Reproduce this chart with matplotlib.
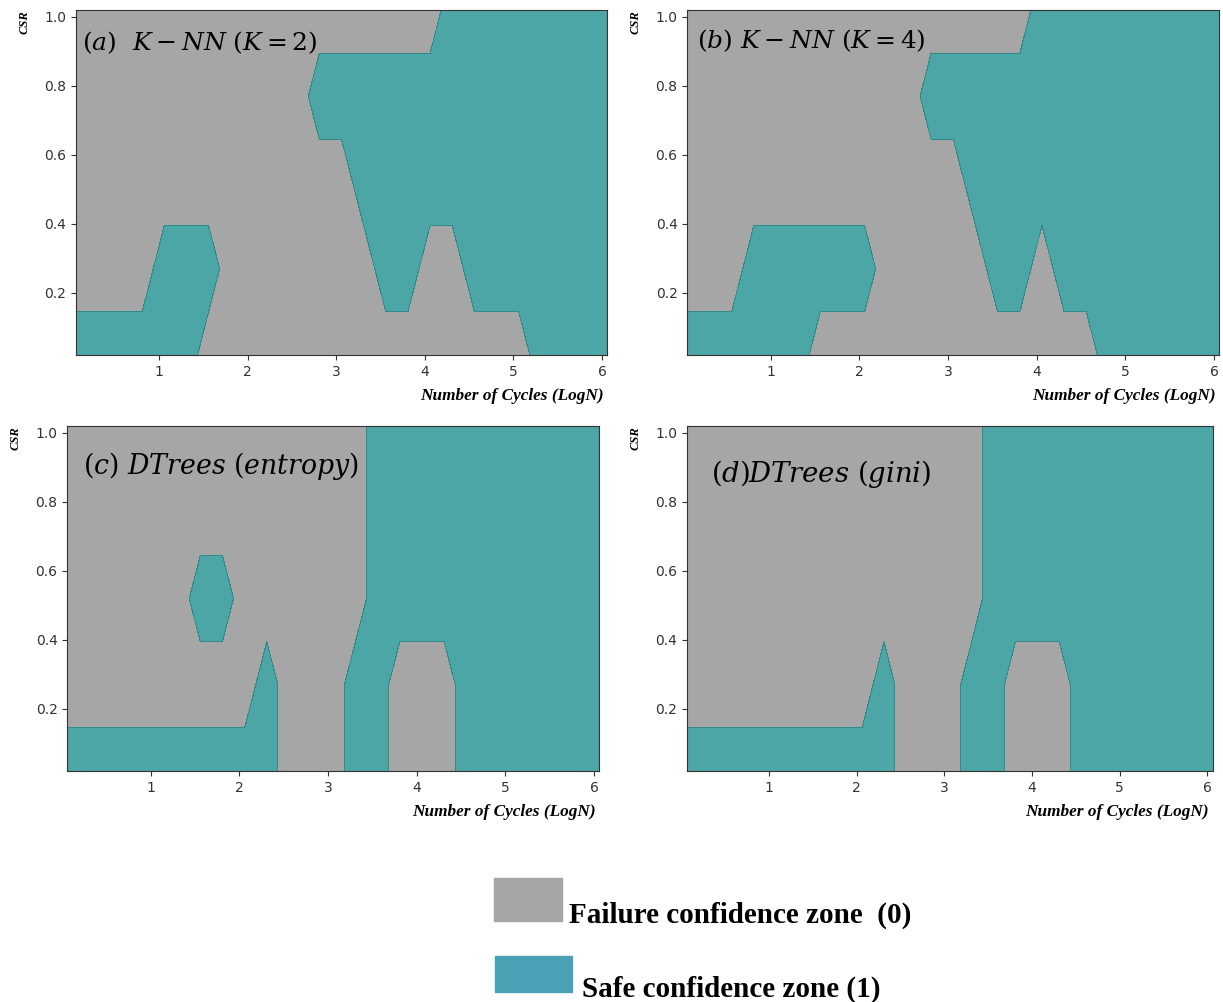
import numpy as np
import matplotlib.pyplot as plt
from matplotlib.colors import ListedColormap

plt.rcParams['mathtext.fontset'] = 'dejavuserif'

# classifier mesh (LogN on x, CSR on y)
x_grid = np.linspace(0.06, 6.06, 25)
y_grid = np.linspace(0.02, 1.02, 5)

# predicted class on the mesh, top row (CSR=1.02) first; 0 = failure, 1 = safe
knn2 = ["0000000000000000011111111",
        "0000000000011111111111111",
        "0000000000000111111111111",
        "0000111000000011001111111",
        "1111110000000000000001111"]

knn4 = ["0000000000000000111111111",
        "0000000000011111111111111",
        "0000000000000111111111111",
        "0001111110000011011111111",
        "1111110000000000000111111"]

dt_entropy = ["0000000000000011111111111",
              "0000000000000011111111111",
              "0000001100000011111111111",
              "0000000001000110001111111",
              "1111111111000110001111111"]

dt_gini = ["0000000000000011111111111",
           "0000000000000011111111111",
           "0000000000000011111111111",
           "0000000001000110001111111",
           "1111111111000110001111111"]

titles = [r'$(a)\ \ K-NN\ (K=2)$', r'$(b)\ K-NN\ (K=4)$',
          r'$(c)\ DTrees\ (entropy)$', r'$(d)DTrees\ (gini)$']
grids = [knn2, knn4, dt_entropy, dt_gini]

W, H = 1223, 1002
# axes boxes in pixels: left, top, right, bottom
boxes = [(75.7, 10, 607.3, 355), (687.3, 10, 1219.3, 355),
         (67.3, 426, 599.3, 771), (686.7, 426, 1212.7, 771)]
title_pos = [(0.012, 0.905), (0.018, 0.91), (0.03, 0.885), (0.047, 0.86)]
title_size = [18, 18, 19.3, 19.8]

cmap = ListedColormap(['gray', 'teal'])

fig = plt.figure(figsize=(W / 100, H / 100), dpi=100)

for grid, title, box, tpos, tsize in zip(grids, titles, boxes, title_pos, title_size):
    l, t, r, b = box
    ax = fig.add_axes([l / W, 1 - b / H, (r - l) / W, (b - t) / H])
    Z = np.array([[int(c) for c in row] for row in grid[::-1]])
    xx, yy = np.meshgrid(x_grid, y_grid)
    ax.contourf(xx, yy, Z, levels=[-0.5, 0.5, 1.5], cmap=cmap, alpha=0.7)
    ax.set_xlim(x_grid[0], x_grid[-1])
    ax.set_ylim(y_grid[0], y_grid[-1])
    ax.set_xticks([1, 2, 3, 4, 5, 6])
    ax.set_yticks([0.2, 0.4, 0.6, 0.8, 1.0])
    ax.tick_params(labelcolor='#333333', color='#333333')
    for s in ax.spines.values():
        s.set_color('#333333')
    ax.set_xlabel('Number of Cycles (LogN)', loc='right', family='Liberation Serif',
                  weight='bold', style='italic', fontsize=12.4, labelpad=7)
    ax.xaxis.label.set_x(0.993)
    ax.set_ylabel('CSR', loc='top', family='Liberation Serif',
                  weight='bold', style='italic', fontsize=9, labelpad=10)
    ax.text(tpos[0], tpos[1], title, transform=ax.transAxes, fontsize=tsize,
            ha='left', va='center')

# legend drawn as figure patches
fig.patches.append(plt.Rectangle((494 / W, 1 - 920.7 / H), 68 / W, 42.4 / H,
                                 color='#a6a6a6', transform=fig.transFigure))
fig.patches.append(plt.Rectangle((494.7 / W, 1 - 992.3 / H), 77 / W, 36.6 / H,
                                 color='#4aa0b5', transform=fig.transFigure))
fig.text(569.3 / W, 1 - 922.7 / H, 'Failure confidence zone  (0)', family='Liberation Serif',
         weight='bold', fontsize=21, va='baseline')
fig.text(581.7 / W, 1 - 996.5 / H, 'Safe confidence zone (1)', family='Liberation Serif',
         weight='bold', fontsize=21, va='baseline')

plt.savefig('out.png', dpi=100)
plt.close()
